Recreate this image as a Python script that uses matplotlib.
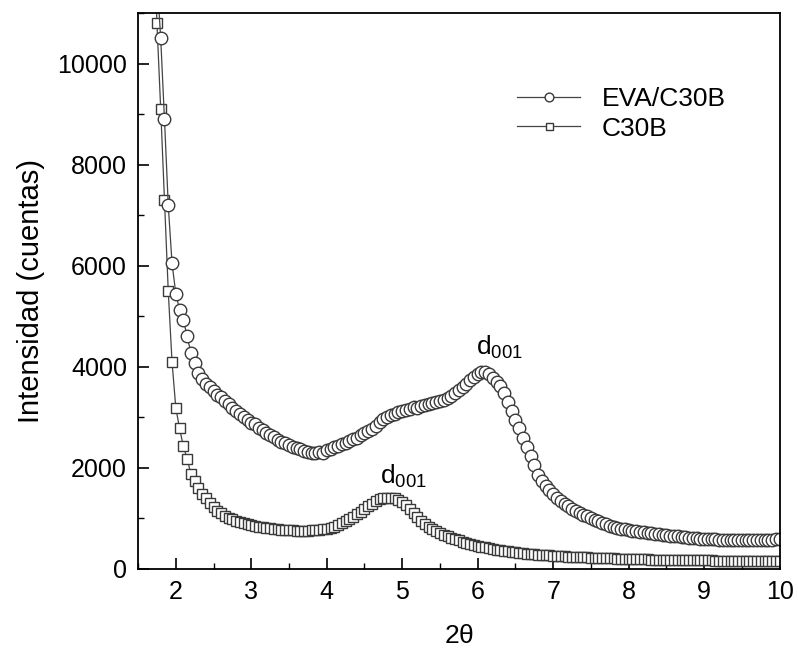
import numpy as np
import matplotlib
matplotlib.use('Agg')
import matplotlib.pyplot as plt

plt.rcParams['font.family'] = ['Liberation Sans', 'DejaVu Sans']

# 2theta scan, 0.05 deg step
two_theta = np.round(np.arange(1.70, 10.001, 0.05), 2)

# EVA/C30B intensity (counts)
eva_c30b = [
    13200, 11700, 10500, 8900, 7200, 6050, 5450, 5130, 4930, 4600,
    4280, 4080, 3870, 3760, 3660, 3600, 3530, 3440, 3400, 3320,
    3260, 3190, 3130, 3060, 3010, 2950, 2890, 2860, 2790, 2740,
    2690, 2660, 2610, 2560, 2520, 2500, 2460, 2420, 2400, 2370,
    2340, 2320, 2300, 2290, 2310, 2300, 2350, 2370, 2410, 2430,
    2470, 2490, 2540, 2570, 2600, 2650, 2690, 2730, 2770, 2830,
    2900, 2960, 3010, 3040, 3060, 3100, 3130, 3150, 3170, 3210,
    3190, 3230, 3240, 3260, 3280, 3300, 3320, 3350, 3390, 3430,
    3480, 3540, 3600, 3660, 3730, 3790, 3860, 3900, 3890, 3850,
    3770, 3700, 3620, 3480, 3300, 3130, 2950, 2780, 2600, 2420,
    2230, 2050, 1860, 1750, 1650, 1560, 1480, 1410, 1340, 1290,
    1240, 1190, 1150, 1110, 1070, 1040, 1000, 970, 940, 910,
    880, 860, 840, 820, 800, 785, 770, 760, 750, 740,
    730, 720, 710, 700, 690, 680, 670, 660, 650, 645,
    635, 625, 620, 615, 610, 600, 600, 590, 585, 590,
    580, 575, 580, 570, 575, 565, 570, 575, 570, 565,
    570, 575, 570, 580, 575, 585, 590,
]

# C30B intensity (counts)
c30b = [
    13000, 10800, 9100, 7300, 5500, 4100, 3190, 2780, 2430, 2180,
    1880, 1740, 1600, 1480, 1400, 1310, 1230, 1150, 1100, 1050,
    1010, 980, 950, 920, 900, 880, 870, 850, 840, 830,
    820, 810, 800, 790, 780, 775, 770, 765, 760, 760,
    755, 760, 765, 770, 780, 790, 800, 820, 840, 870,
    900, 940, 980, 1030, 1080, 1130, 1190, 1240, 1290, 1340,
    1380, 1400, 1410, 1405, 1395, 1370, 1320, 1260, 1180, 1100,
    1020, 950, 890, 840, 790, 750, 710, 680, 650, 620,
    590, 565, 540, 515, 495, 475, 455, 440, 425, 410,
    395, 380, 370, 360, 350, 340, 330, 320, 315, 305,
    300, 290, 285, 280, 275, 270, 265, 260, 255, 250,
    245, 240, 238, 235, 230, 228, 225, 220, 218, 215,
    212, 210, 208, 205, 202, 200, 198, 196, 194, 192,
    190, 188, 186, 185, 183, 181, 180, 178, 177, 176,
    175, 174, 172, 171, 170, 170, 169, 168, 168, 167,
    166, 166, 165, 165, 164, 164, 163, 163, 163, 162,
    162, 162, 161, 161, 160, 160, 160,
]

peak_labels = [(5.98, 4240), (4.71, 1700)]

fig = plt.figure(figsize=(7.98, 6.51), dpi=100)
ax = fig.add_axes([0.173, 0.126, 0.804, 0.854])

ax.plot(two_theta, c30b, color='#444444', lw=0.9, marker='s', ms=7.2,
        mfc='white', mec='#3a3a3a', mew=1.0, label='C30B')
ax.plot(two_theta, eva_c30b, color='#444444', lw=0.9, marker='o', ms=9.0,
        mfc='white', mec='#3a3a3a', mew=1.0, label='EVA/C30B')

for xp, yp in peak_labels:
    ax.text(xp, yp, r'd$_{\mathregular{001}}$', fontsize=19, ha='left',
            va='baseline')

ax.set_xlim(1.5, 10)
ax.set_ylim(0, 11000)
ax.set_xticks(np.arange(2, 11, 1))
ax.set_xticks(np.arange(1.5, 10.01, 0.5), minor=True)
ax.set_yticks(np.arange(0, 10001, 2000))
ax.set_yticks(np.arange(0, 11001, 1000), minor=True)

ax.tick_params(which='both', direction='in', labelsize=18)
ax.tick_params(which='major', length=8, width=1.2, pad=8)
ax.tick_params(which='minor', length=4, width=1.0)
for s in ax.spines.values():
    s.set_linewidth(1.3)

ax.set_xlabel(r'2$\mathregular{\theta}$', fontsize=19, labelpad=14)
ax.set_ylabel('Intensidad (cuentas)', fontsize=21, labelpad=9)

h, l = ax.get_legend_handles_labels()
leg = ax.legend(h[::-1], l[::-1], loc='upper left', bbox_to_anchor=(0.57, 0.89),
                frameon=False, fontsize=19, handlelength=2.4, handletextpad=0.8,
                labelspacing=0.2, borderpad=0, markerscale=0.7)

fig.savefig('out.png', dpi=100)
